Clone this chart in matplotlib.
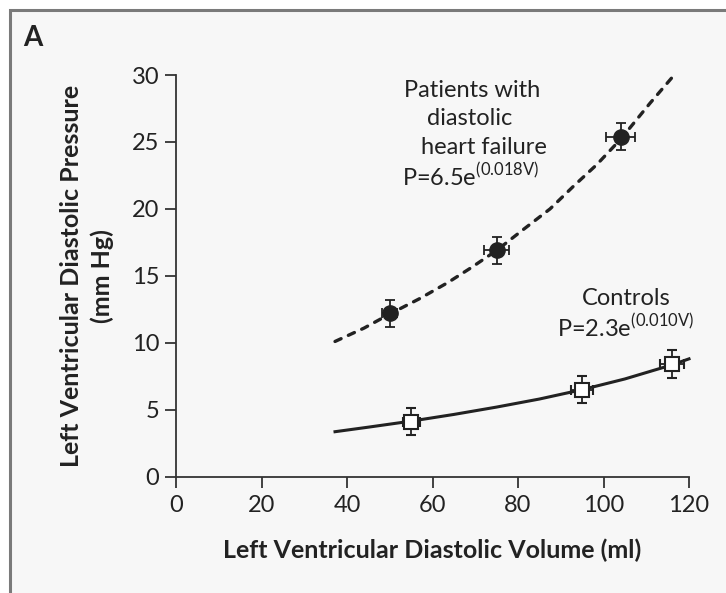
import matplotlib
matplotlib.use("Agg")
import matplotlib.pyplot as plt
from matplotlib.patches import Rectangle

plt.rcParams['font.family'] = ['Lato', 'DejaVu Sans']
plt.rcParams['mathtext.fontset'] = 'custom'
plt.rcParams['mathtext.rm'] = 'Lato'

# measured points (mean +/- error)
pat_v = [50, 75, 104]
pat_p = [12.2, 16.9, 25.4]
pat_verr = [1.8, 3.0, 3.4]
pat_perr = [1.0, 1.0, 1.0]

ctl_v = [55, 95, 116]
ctl_p = [4.1, 6.5, 8.4]
ctl_verr = [2.0, 2.5, 2.8]
ctl_perr = [1.0, 1.0, 1.05]

# fitted curves
pat_fit_v = [37.2, 44, 50, 57, 63.6, 69, 75, 81, 87.5, 93, 98.4, 104, 110.9, 116]
pat_fit_p = [10.1, 11.1, 12.15, 13.3, 14.5, 15.6, 16.9, 18.4, 20.0, 21.7, 23.3, 25.2, 27.9, 29.8]
ctl_fit_v = [37.2, 45, 55, 65, 75, 85, 95, 105, 116, 120]
ctl_fit_p = [3.36, 3.7, 4.15, 4.65, 5.2, 5.8, 6.5, 7.3, 8.35, 8.8]

xticks = [0, 20, 40, 60, 80, 100, 120]
yticks = [0, 5, 10, 15, 20, 25, 30]

W, H = 726, 593
fig = plt.figure(figsize=(W/100, H/100), dpi=100)
fig.patch.set_facecolor('white')
fig.add_artist(Rectangle((10/W, -0.1), 1.1, (H-10.5)/H + 0.1, transform=fig.transFigure,
                         facecolor='#f7f7f7', edgecolor='#7a7a7a', linewidth=2.2, zorder=-5))

ax = fig.add_axes([176/W, (H-476.7)/H, 513/W, (476.7-75)/H])
ax.set_facecolor('none')
ink = '#222222'

ax.plot(pat_fit_v, pat_fit_p, color=ink, lw=2.4, ls=(0, (2.0, 2.4)), dash_capstyle='round',
        clip_on=False, zorder=2)
ax.plot(ctl_fit_v, ctl_fit_p, color=ink, lw=2.2, clip_on=False, zorder=2)

ax.errorbar(pat_v, pat_p, xerr=pat_verr, yerr=pat_perr, fmt='o', color=ink, ms=11,
            capsize=3.5, elinewidth=1.3, capthick=1.3, zorder=3, clip_on=False)
ax.errorbar(ctl_v, ctl_p, xerr=ctl_verr, yerr=ctl_perr, fmt='s', color=ink, mfc='white',
            mec=ink, mew=1.5, ms=10, capsize=3.5, elinewidth=1.3, capthick=1.3,
            zorder=3, clip_on=False)

ax.set_xlim(0, 120)
ax.set_ylim(0, 30)
ax.set_xticks(xticks)
ax.set_yticks(yticks)
for s in ['top', 'right']:
    ax.spines[s].set_visible(False)
for s in ['left', 'bottom']:
    ax.spines[s].set_color('#333333')
    ax.spines[s].set_linewidth(1.3)
ax.tick_params(direction='out', length=8, width=1.3, color='#333333', labelcolor=ink, labelsize=17)
ax.tick_params(axis='x', pad=5)
ax.tick_params(axis='y', pad=4)

tk = dict(fontsize=17, color=ink, va='center', ha='left')
ax.text(53.3, 28.86, 'Patients with', **tk)
ax.text(58.7, 26.77, 'diastolic', **tk)
ax.text(57.3, 24.6, 'heart failure', **tk)
ax.text(52.9, 22.5, r'P=6.5e$^{\mathrm{(0.018V)}}$', **tk)
ax.text(94.9, 13.3, 'Controls', **tk)
ax.text(89.2, 11.2, r'P=2.3e$^{\mathrm{(0.010V)}}$', **tk)

fig.text(87/W, 1-276/H, 'Left Ventricular Diastolic Pressure\n(mm Hg)', rotation=90,
         ha='center', va='center', multialignment='center', fontsize=18,
         fontweight='bold', color=ink, linespacing=1.35)
fig.text(432/W, 1-550/H, 'Left Ventricular Diastolic Volume (ml)', ha='center', va='center',
         fontsize=18, fontweight='bold', color=ink)
fig.text(23/W, 1-37.5/H, 'A', ha='left', va='center', fontsize=20, fontweight='bold', color=ink)

fig.savefig('out.png', dpi=100, facecolor=fig.get_facecolor())
